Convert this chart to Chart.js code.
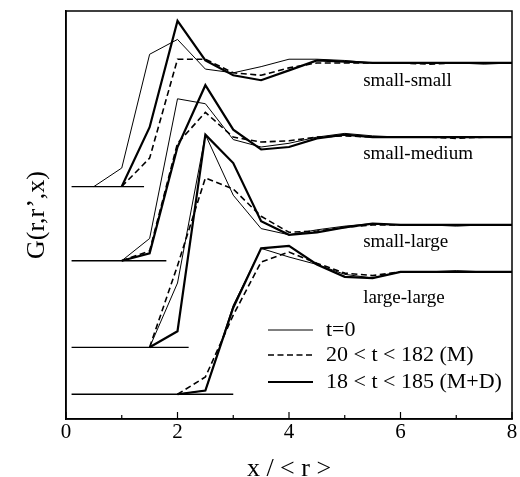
<!DOCTYPE html>
<html>
<head>
<meta charset="utf-8">
<script src="https://cdn.jsdelivr.net/npm/chart.js@4.4.1/dist/chart.umd.min.js"></script>
<style>
  body { margin: 0; background: #fff; }
  canvas { display: block; }
</style>
</head>
<body>
<canvas id="gChart" width="520" height="477"></canvas>
<script>
// x grid (x / <r>)
const xGrid = [0.5, 1, 1.5, 2, 2.5, 3, 3.5, 4, 4.5, 5, 5.5, 6, 6.5, 7, 7.5, 8];

// panels: small-small, small-medium, small-large, large-large
const panelNames = ["small-small", "small-medium", "small-large", "large-large"];
const panelOffsets = [1.68, 1.08, 0.38, 0];
const baselineEnds = [1.4, 1.8, 2.2, 3.0];
const baselineStart = 0.1;

// t=0
const ssT0 = [0, 0.15, 1.07, 1.19, 0.95, 0.92, 0.97, 1.03, 1.03, 1.02, 1.0, 1.0, 1.0, 1.0, 0.99, 1.0];
const smT0 = [null, 0, 0.18, 1.31, 1.27, 0.98, 0.92, 0.95, 1.0, 1.03, 1.01, 1.0, 1.0, 1.0, 1.0, 1.0];
const slT0 = [null, null, 0, 0.52, 1.72, 1.23, 0.96, 0.91, 0.95, 0.98, 1.0, 0.99, 0.99, 0.98, 0.99, 0.99];
const llT0 = [null, null, null, 0, 0.03, 0.72, 1.18, 1.11, 1.05, 0.97, 0.94, 0.99, 0.99, 1.0, 0.99, 0.99];

// 20 < t < 182 (M)
const ssM = [null, 0, 0.23, 1.03, 1.03, 0.92, 0.9, 0.96, 1.0, 1.0, 1.0, 1.0, 0.99, 1.0, 1.0, 1.0];
const smM = [null, 0, 0.08, 0.95, 1.2, 1.0, 0.96, 0.97, 1.0, 1.01, 1.0, 1.0, 1.0, 0.99, 1.0, 1.0];
const slM = [null, null, 0, 0.66, 1.37, 1.28, 1.06, 0.93, 0.94, 0.97, 0.99, 0.99, 0.99, 0.99, 0.99, 0.99];
const llM = [null, null, null, 0, 0.14, 0.64, 1.07, 1.15, 1.06, 0.98, 0.96, 0.99, 0.99, 0.99, 0.99, 0.99];

// 18 < t < 185 (M+D)
const ssMD = [null, 0, 0.48, 1.34, 1.02, 0.9, 0.86, 0.94, 1.02, 1.01, 1.0, 1.0, 1.0, 1.0, 1.0, 1.0];
const smMD = [null, 0, 0.06, 0.92, 1.42, 1.06, 0.9, 0.92, 0.99, 1.02, 1.0, 1.0, 1.0, 1.0, 1.0, 1.0];
const slMD = [null, null, 0, 0.13, 1.72, 1.49, 1.02, 0.91, 0.93, 0.97, 1.0, 0.99, 0.99, 0.99, 0.99, 0.99];
const llMD = [null, null, null, 0, 0.03, 0.7, 1.18, 1.2, 1.05, 0.95, 0.94, 0.99, 0.99, 0.99, 0.99, 0.99];

const seriesNames = ["t=0", "20 < t < 182 (M)", "18 < t < 185 (M+D)"];
const xTickLabels = ["0", "2", "4", "6", "8"];

const t0Sets = [ssT0, smT0, slT0, llT0];
const mSets = [ssM, smM, slM, llM];
const mdSets = [ssMD, smMD, slMD, llMD];

const serif = "'Liberation Serif', 'DejaVu Serif', serif";

function shifted(values, off) {
    return xGrid.map((x, i) => ({ x: x, y: values[i] === null ? null : values[i] + off }));
}

const styles = [
    { borderWidth: 1, borderDash: [] },
    { borderWidth: 1.6, borderDash: [6, 3.5] },
    { borderWidth: 2.2, borderDash: [] }
];

const datasets = [];
panelOffsets.forEach((off, p) => {
    datasets.push({
        label: "base " + panelNames[p],
        data: [{ x: baselineStart, y: off }, { x: baselineEnds[p], y: off }],
        borderColor: "#000", borderWidth: 1.3, pointRadius: 0
    });
    [t0Sets, mSets, mdSets].forEach((sets, s) => {
        datasets.push({
            label: seriesNames[s] + " " + panelNames[p],
            data: shifted(sets[p], off),
            borderColor: "#000",
            borderWidth: styles[s].borderWidth,
            borderDash: styles[s].borderDash,
            pointRadius: 0,
            spanGaps: false,
            tension: 0
        });
    });
});

const panelLabelX = 5.33;
const panelLabelDy = [0.85, 0.86, 0.85, 0.78];

const decorations = {
    id: "decorations",
    afterDraw(chart) {
        const ctx = chart.ctx;
        const area = chart.chartArea;
        const xs = chart.scales.x;
        const ys = chart.scales.y;
        ctx.save();
        // frame
        ctx.strokeStyle = "#000";
        ctx.lineWidth = 1.5;
        ctx.strokeRect(area.left, area.top, area.right - area.left, area.bottom - area.top);
        // inward ticks
        ctx.lineWidth = 1.2;
        xs.ticks.forEach(t => {
            const px = xs.getPixelForValue(t.value);
            const len = t.value % 2 === 0 ? 7 : 4;
            ctx.beginPath();
            ctx.moveTo(px, area.bottom);
            ctx.lineTo(px, area.bottom - len);
            ctx.stroke();
        });
        // panel labels
        ctx.fillStyle = "#000";
        ctx.font = "19px " + serif;
        ctx.textAlign = "left";
        ctx.textBaseline = "middle";
        panelNames.forEach((name, p) => {
            ctx.fillText(name, xs.getPixelForValue(panelLabelX), ys.getPixelForValue(panelOffsets[p] + panelLabelDy[p]));
        });
        // legend
        ctx.font = "22px " + serif;
        const lx0 = 268, lx1 = 313, ltx = 326;
        const rows = [330, 355, 382];
        seriesNames.forEach((name, s) => {
            ctx.lineWidth = styles[s].borderWidth;
            ctx.setLineDash(styles[s].borderDash);
            ctx.beginPath();
            ctx.moveTo(lx0, rows[s]);
            ctx.lineTo(lx1, rows[s]);
            ctx.stroke();
            ctx.setLineDash([]);
            ctx.fillText(name, ltx, rows[s]);
        });
        ctx.restore();
    }
};

new Chart(document.getElementById("gChart"), {
    type: "line",
    data: { datasets: datasets },
    options: {
        responsive: false,
        animation: false,
        layout: { padding: { top: 11, right: 8, bottom: 0, left: 0 } },
        plugins: { legend: { display: false }, tooltip: { enabled: false } },
        scales: {
            x: {
                type: "linear",
                min: 0, max: 8,
                grid: { display: false, drawTicks: false },
                border: { display: true, color: "#000", width: 1.5 },
                ticks: {
                    stepSize: 1,
                    autoSkip: false,
                    maxRotation: 0,
                    padding: 1,
                    color: "#000",
                    font: { family: serif, size: 21 },
                    callback: v => (v % 2 === 0 ? xTickLabels[v / 2] : "")
                },
                title: {
                    display: true,
                    text: "x / < r >",
                    color: "#000",
                    font: { family: serif, size: 26, lineHeight: 0.6 },
                    padding: { top: 0, bottom: 0 }
                },
                afterFit: s => { s.height = 58; }
            },
            y: {
                type: "linear",
                min: -0.2, max: 3.1,
                grid: { display: false, drawTicks: false },
                border: { display: true, color: "#000", width: 1.5 },
                ticks: { display: false },
                title: {
                    display: true,
                    text: "G(r,r’,x)",
                    color: "#000",
                    font: { family: serif, size: 26, lineHeight: 1.2 },
                    padding: { top: 22, bottom: 0 }
                },
                afterFit: s => { s.width = 66; }
            }
        }
    },
    plugins: [decorations]
});
</script>
</body>
</html>
